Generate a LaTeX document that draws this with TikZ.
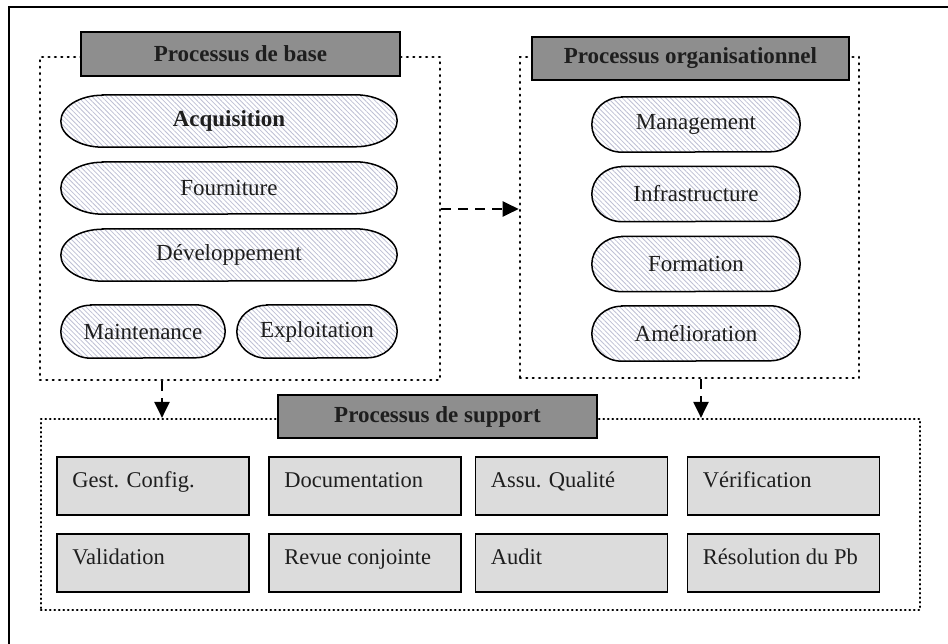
\documentclass[tikz,border=0pt]{standalone}
\usepackage{fontspec}
\setmainfont{Liberation Serif}
\usetikzlibrary{arrows.meta,patterns.meta,calc}
\pgfdeclarelayer{bg}
\pgfsetlayers{bg,main}
\definecolor{hdr}{RGB}{142,142,142}
\definecolor{boxgray}{RGB}{220,220,220}
\definecolor{hatch}{RGB}{190,192,212}
\definecolor{ink}{RGB}{30,30,30}
\tikzset{
  frame/.style={line width=2.6pt},
  dotbox/.style={draw, line width=2.6pt, dash pattern=on 0.8pt off 5.6pt, line cap=round, rectangle, inner sep=0pt},
  supdot/.style={draw, line width=2.2pt, dash pattern=on 0.5pt off 4pt, line cap=round, rectangle, inner sep=0pt},
  header/.style={draw, line width=1.8pt, fill=hdr, rectangle, inner sep=0pt, font=\fontsize{23}{27}\selectfont\bfseries, text=ink},
  stadlabel/.style={inner sep=0pt, text=ink},
  stadline/.style={draw, line width=1.5pt, pattern={Lines[angle=-45,distance=3.4pt,line width=0.8pt]}, pattern color=hatch},
  supbox/.style={draw, line width=1.8pt, fill=boxgray, rectangle, minimum width=192pt, minimum height=58pt, inner sep=0pt},
  suptext/.style={anchor=base west, inner sep=0pt, font=\fontsize{22.5}{27}\selectfont, text=ink},
  flow/.style={line width=2.2pt, dash pattern=on 10pt off 7pt, -{Triangle[length=16pt,width=15pt]}},
}
% #1 name, #2 cx, #3 cy, #4 w, #5 h, #6 rx, #7 font extra, #8 text
\newcommand\stadium[8]{%
  \node[stadlabel, minimum width=#4pt, minimum height=#5pt, font=\fontsize{23}{27}\selectfont#7] (#1) at (#2,#3) {#8};
  \begin{pgfonlayer}{bg}
  \draw[stadline] ([xshift=#6pt]#1.north west) -- ([xshift=-#6pt]#1.north east)
     arc[start angle=90, end angle=-90, x radius=#6pt, y radius=#5pt/2]
     -- ([xshift=#6pt]#1.south west)
     arc[start angle=270, end angle=90, x radius=#6pt, y radius=#5pt/2] -- cycle;
  \end{pgfonlayer}
}
\newcommand\supitem[4]{% name, cx, cy, text
  \node[supbox] (#1) at (#2,#3) {};
  \node[suptext] (#1t) at ([xshift=16pt,yshift=-1pt]#1.west) {#4};
}
\begin{document}
\begin{tikzpicture}[x=1pt,y=-1pt]
\useasboundingbox (0,0) rectangle (948,644);
\begin{pgfonlayer}{bg}
\fill[white] (0,0) rectangle (948,644);
\end{pgfonlayer}
\draw[frame] (9,650) -- (9,7) -- (955,7);

% containers
\node[dotbox, minimum width=400pt, minimum height=323pt] (baseBox) at (240,218.5) {};
\node[dotbox, minimum width=339pt, minimum height=321pt] (orgBox) at (689.5,217.5) {};
\node[supdot, minimum width=879pt, minimum height=191pt] (supBox) at (480.5,514.5) {};

% headers
\node[header, minimum width=319pt, minimum height=44pt] (baseHdr) at (240.5,54) {Processus de base};
\node[header, minimum width=317pt, minimum height=43pt] (orgHdr) at (690.5,58.5) {Processus organisationnel};
\node[header, minimum width=319pt, minimum height=43pt] (supHdr) at (437.5,416.5) {Processus de support};

% base processes
\stadium{acq}{229}{121}{336}{52}{42}{\bfseries}{Acquisition}
\stadium{fou}{229}{188}{336}{52}{42}{}{Fourniture}
\stadium{dev}{229}{255}{336}{52}{42}{}{Développement}
\stadium{mai}{143}{331.5}{164}{53}{30}{}{Maintenance}
\stadium{exp}{317}{331.5}{160}{53}{30}{}{Exploitation}

% organisational processes
\stadium{man}{696}{124.5}{208}{55}{30}{}{Management}
\stadium{inf}{696}{194}{208}{55}{30}{}{Infrastructure}
\stadium{for}{696}{264}{208}{55}{30}{}{Formation}
\stadium{ame}{696}{333.5}{208}{55}{30}{}{Amélioration}

% support processes
\supitem{s1}{153}{486}{Gest. Config.}
\supitem{s2}{365}{486}{Documentation}
\supitem{s3}{571.5}{486}{Assu. Qualité}
\supitem{s4}{783.5}{486}{Vérification}
\supitem{s5}{153}{563}{Validation}
\supitem{s6}{365}{563}{Revue conjointe}
\supitem{s7}{571.5}{563}{Audit}
\supitem{s8}{783.5}{563}{Résolution du Pb}

% connectors
\coordinate (hy) at (0,209);
\coordinate (ax1) at (162,0);
\coordinate (ax2) at (701,0);
\draw[flow] (baseBox.east |- hy) -- (orgBox.west |- hy);
\draw[flow] (baseBox.south -| ax1) -- (supBox.north -| ax1);
\draw[flow] (orgBox.south -| ax2) -- (supBox.north -| ax2);
\end{tikzpicture}
\end{document}
